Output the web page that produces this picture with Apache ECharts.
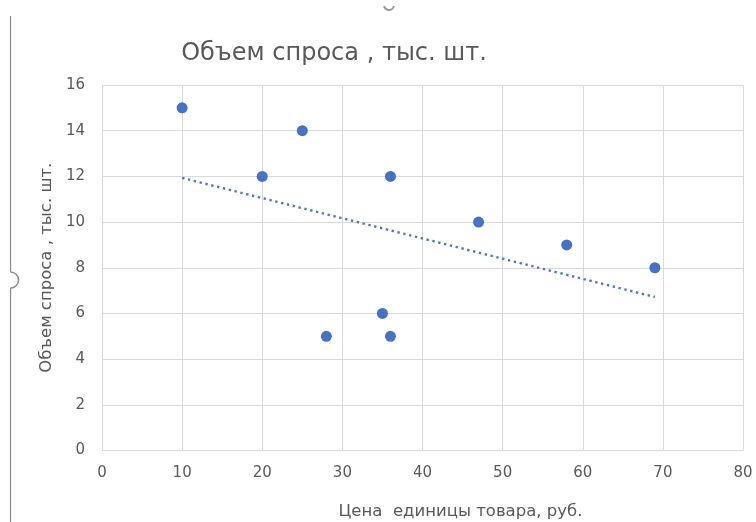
<!DOCTYPE html>
<html>
<head>
<meta charset="utf-8">
<script src="https://cdn.jsdelivr.net/npm/echarts@6/dist/echarts.min.js"></script>
<style>
  html, body { margin: 0; padding: 0; background: #fff; }
  #chart { width: 756px; height: 522px; }
</style>
</head>
<body>
<div id="chart"></div>
<script>
// Price per unit (rub.) and demand volume (thousand pcs)
const prices = [10, 20, 25, 28, 35, 36, 36, 47, 58, 69];
const demand = [15, 12, 14, 5, 6, 12, 5, 10, 9, 8];
const xTicks = [0, 10, 20, 30, 40, 50, 60, 70, 80];
const yTicks = [0, 2, 4, 6, 8, 10, 12, 14, 16];

const titleText = 'Объем спроса , тыс. шт.';
const xName = 'Цена  единицы товара, руб.';
const yName = 'Объем спроса , тыс. шт.';

// Least-squares linear trend over the observed points
function linearTrend(xs, ys) {
  const n = xs.length;
  const mx = xs.reduce((a, b) => a + b, 0) / n;
  const my = ys.reduce((a, b) => a + b, 0) / n;
  let sxy = 0, sxx = 0;
  for (let i = 0; i < n; i++) {
    sxy += (xs[i] - mx) * (ys[i] - my);
    sxx += (xs[i] - mx) * (xs[i] - mx);
  }
  const k = sxy / sxx;
  const b = my - k * mx;
  const x0 = Math.min(...xs), x1 = Math.max(...xs);
  return [[x0, k * x0 + b], [x1, k * x1 + b]];
}

const points = prices.map((p, i) => [p, demand[i]]);
const trend = linearTrend(prices, demand);

const FONT = '"DejaVu Sans", "Open Sans", sans-serif';
const TEXT = '#595959';
const GRID = '#d9d9d9';
const BLUE = '#4472C4';

const chart = echarts.init(document.getElementById('chart'), null, { renderer: 'canvas' });
chart.setOption({
  animation: false,
  backgroundColor: '#ffffff',
  title: {
    text: titleText,
    left: 329,
    top: 37,
    textAlign: 'center',
    textStyle: { fontFamily: FONT, fontSize: 24, fontWeight: 'normal', color: TEXT }
  },
  grid: { left: 102, right: 13, top: 85, bottom: 71.5, containLabel: false, outerBoundsMode: 'none' },
  xAxis: {
    type: 'value',
    min: xTicks[0],
    max: xTicks[xTicks.length - 1],
    interval: xTicks[1] - xTicks[0],
    name: xName,
    nameLocation: 'middle',
    nameGap: 53,
    nameTextStyle: { fontFamily: FONT, fontSize: 16.5, color: TEXT, padding: [0, 0, 0, 76] },
    axisLine: { show: true, lineStyle: { color: GRID, width: 1 } },
    axisTick: { show: false },
    axisLabel: { fontFamily: FONT, fontSize: 15, color: TEXT, margin: 15 },
    splitLine: { show: true, lineStyle: { color: GRID, width: 1 } }
  },
  yAxis: {
    type: 'value',
    min: yTicks[0],
    max: yTicks[yTicks.length - 1],
    interval: yTicks[1] - yTicks[0],
    name: yName,
    nameLocation: 'middle',
    nameGap: 46,
    nameTextStyle: { fontFamily: FONT, fontSize: 16.5, color: TEXT },
    axisLine: { show: true, lineStyle: { color: GRID, width: 1 } },
    axisTick: { show: false },
    axisLabel: { fontFamily: FONT, fontSize: 15, color: TEXT, margin: 17 },
    splitLine: { show: true, lineStyle: { color: GRID, width: 1 } }
  },
  series: [
    {
      name: 'trend',
      type: 'line',
      data: trend,
      showSymbol: false,
      symbol: 'none',
      silent: true,
      lineStyle: { color: BLUE, width: 2.4, type: [2.4, 3.6], opacity: 0.95 },
      z: 2
    },
    {
      name: yName,
      type: 'scatter',
      data: points,
      symbol: 'circle',
      symbolSize: 11,
      itemStyle: { color: BLUE, opacity: 1 },
      z: 3
    }
  ],
  graphic: [
    {
      type: 'line',
      shape: { x1: 10.5, y1: 16, x2: 10.5, y2: 272 },
      style: { stroke: '#8c8c8c', lineWidth: 1.2 }
    },
    {
      type: 'line',
      shape: { x1: 10.5, y1: 288, x2: 10.5, y2: 522 },
      style: { stroke: '#8c8c8c', lineWidth: 1.2 }
    },
    {
      type: 'arc',
      shape: { cx: 10.5, cy: 280, r: 8, startAngle: -Math.PI / 2, endAngle: Math.PI / 2, clockwise: true },
      style: { stroke: '#8c8c8c', lineWidth: 1.5, fill: 'none' }
    },
    {
      type: 'arc',
      shape: { cx: 389, cy: 5, r: 5, startAngle: 0.2, endAngle: Math.PI - 0.2, clockwise: true },
      style: { stroke: '#9a9a9a', lineWidth: 2, fill: 'none' }
    }
  ]
});
</script>
</body>
</html>
